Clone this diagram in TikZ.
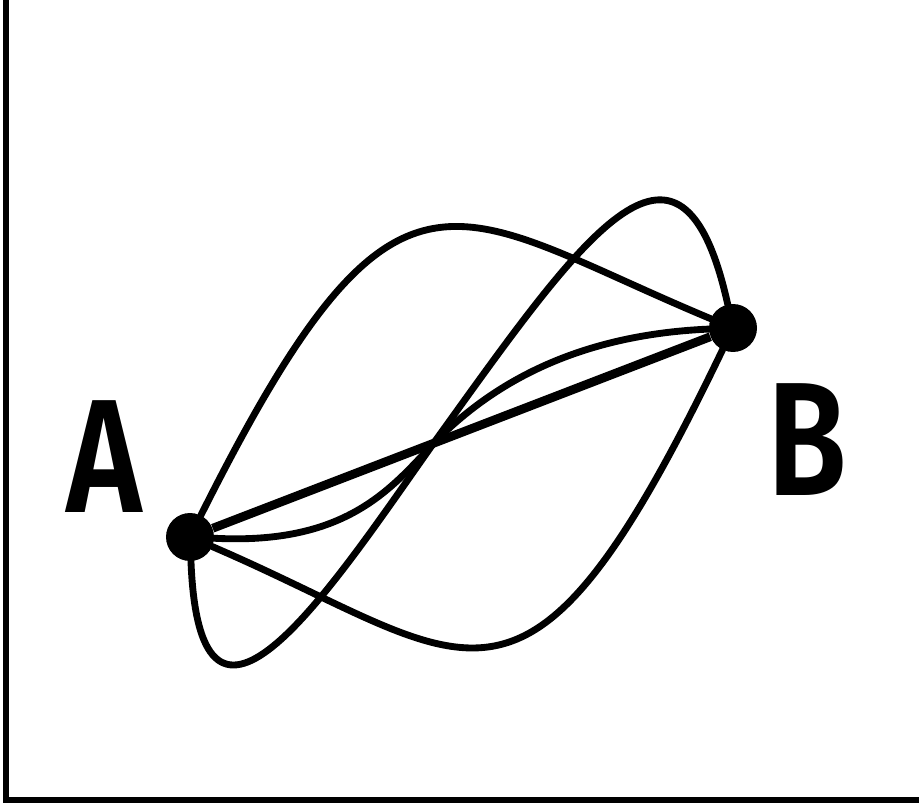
\documentclass[tikz,border=0pt]{standalone}
\usepackage{fontspec}
\newfontfamily\labelfont[FakeStretch=0.8]{Fira Sans SemiBold}
\usetikzlibrary{arrows.meta}

\begin{document}
\begin{tikzpicture}[x=0.02cm, y=-0.02cm,
    dot/.style={circle, fill=black, inner sep=0pt, minimum size=0.96cm},
    route/.style={line width=3.9pt, line cap=round},
    letter/.style={font=\labelfont\fontsize{92}{92}\selectfont, inner sep=0pt}]
  \useasboundingbox (0,0) rectangle (919,804);

  \coordinate (top) at (6,0);
  \coordinate (origin) at (6,800);
  \coordinate (right) at (919,800);
  \draw[line width=3.6pt] (top) -- (origin) -- (right);

  \node[dot] (A) at (190,537) {};
  \node[dot] (B) at (733,328) {};
  \coordinate (M) at (433,444);

  \node[letter] (labA) at (104,457) {A};
  \node[letter] (labB) at (807,440) {B};

  \draw[line width=5pt] (A) -- (B);
  \draw[route] (A) .. controls (398,122) and (450,210) .. (B);
  \draw[route] (A) .. controls (476,660) and (523,765) .. (B);
  \draw[route] (A) .. controls (200,790) and (330,590) .. (M)
                   .. controls (580,240) and (680,90) .. (B);
  \draw[route] (A) .. controls (345,545) and (390,490) .. (M)
                   .. controls (490,385) and (575,335) .. (B);
\end{tikzpicture}
\end{document}
